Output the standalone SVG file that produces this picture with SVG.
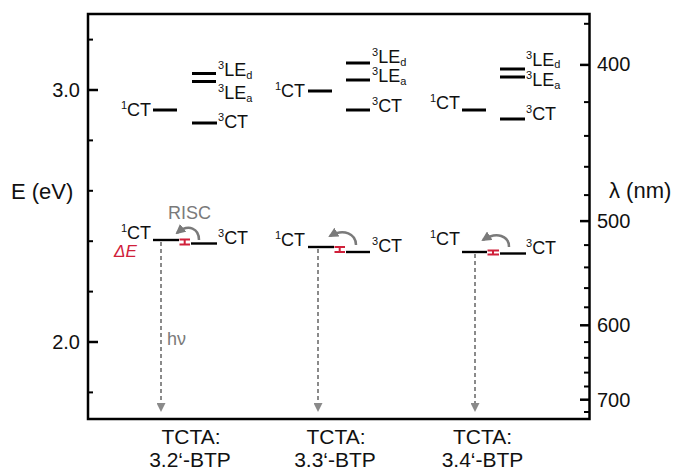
<svg xmlns="http://www.w3.org/2000/svg" width="678" height="472" viewBox="0 0 678 472">
<defs>
<style>
text{font-family:"Liberation Sans",Arial,sans-serif;fill:#111}
.ax{font-size:20px}
.axl{font-size:22px}
.lb{font-size:18px}
.sm{font-size:11px}
.bt{font-size:21px;text-anchor:middle}
.gray{fill:#7a7a7a}
.red{fill:#d0203a}
.lvl{stroke:#000;stroke-width:3;fill:none}
.lvl2{stroke:#000;stroke-width:2.4;fill:none}
.tk{stroke:#000;stroke-width:2.5}
.tkm{stroke:#000;stroke-width:2}
.hv{stroke:#8a8a8a;stroke-width:2;stroke-dasharray:4 3;fill:none}
.risc{stroke:#7a7a7a;stroke-width:2.5;fill:none}
.de{stroke:#d0203a;stroke-width:2;fill:none}
</style>
<marker id="hvhead" markerWidth="9" markerHeight="9" refX="0" refY="4.5" orient="auto" markerUnits="userSpaceOnUse" viewBox="0 0 9 9">
<path d="M0,0 L9,4.5 L0,9 Z" fill="#8a8a8a"/>
</marker>
<marker id="rhead" markerWidth="10" markerHeight="10" refX="8" refY="5" orient="auto" markerUnits="userSpaceOnUse" viewBox="0 0 10 10">
<path d="M0,0 L10,5 L0,10 Z" fill="#7a7a7a"/>
</marker>
</defs>
<rect width="678" height="472" fill="#fff"/>

<g id="axes">
<rect x="88" y="14" width="501.5" height="405" fill="none" stroke="#000" stroke-width="2.5"/>
<g id="left-ticks">
<line class="tk" x1="88" y1="90" x2="98" y2="90"/>
<line class="tk" x1="88" y1="342" x2="98" y2="342"/>
<line class="tkm" x1="88" y1="39.6" x2="93" y2="39.6"/>
<line class="tkm" x1="88" y1="140.4" x2="93" y2="140.4"/>
<line class="tkm" x1="88" y1="190.8" x2="93" y2="190.8"/>
<line class="tkm" x1="88" y1="241.2" x2="93" y2="241.2"/>
<line class="tkm" x1="88" y1="291.6" x2="93" y2="291.6"/>
<line class="tkm" x1="88" y1="392.4" x2="93" y2="392.4"/>
</g>
<g id="right-ticks">
<line class="tk" x1="580" y1="64.9" x2="589.5" y2="64.9"/>
<line class="tk" x1="580" y1="221.1" x2="589.5" y2="221.1"/>
<line class="tk" x1="580" y1="325.3" x2="589.5" y2="325.3"/>
<line class="tk" x1="580" y1="399.7" x2="589.5" y2="399.7"/>
<line class="tkm" x1="584" y1="23.8" x2="589.5" y2="23.8"/>
<line class="tkm" x1="584" y1="102.1" x2="589.5" y2="102.1"/>
<line class="tkm" x1="584" y1="135.9" x2="589.5" y2="135.9"/>
<line class="tkm" x1="584" y1="166.8" x2="589.5" y2="166.8"/>
<line class="tkm" x1="584" y1="195.1" x2="589.5" y2="195.1"/>
<line class="tkm" x1="584" y1="245.1" x2="589.5" y2="245.1"/>
<line class="tkm" x1="584" y1="267.4" x2="589.5" y2="267.4"/>
<line class="tkm" x1="584" y1="288.1" x2="589.5" y2="288.1"/>
<line class="tkm" x1="584" y1="307.3" x2="589.5" y2="307.3"/>
<line class="tkm" x1="584" y1="342.1" x2="589.5" y2="342.1"/>
<line class="tkm" x1="584" y1="357.8" x2="589.5" y2="357.8"/>
<line class="tkm" x1="584" y1="372.6" x2="589.5" y2="372.6"/>
<line class="tkm" x1="584" y1="386.5" x2="589.5" y2="386.5"/>
<line class="tkm" x1="584" y1="412" x2="589.5" y2="412"/>
</g>
<text class="ax" x="80" y="97" text-anchor="end">3.0</text>
<text class="ax" x="80" y="349" text-anchor="end">2.0</text>
<text class="axl" x="11" y="199">E (eV)</text>
<text class="ax" x="597" y="71">400</text>
<text class="ax" x="597" y="228">500</text>
<text class="ax" x="597" y="332">600</text>
<text class="ax" x="597" y="407">700</text>
<text class="axl" x="609" y="198">λ (nm)</text>
</g>

<g id="connectors">
<line class="hv" x1="161" y1="242" x2="161" y2="403" marker-end="url(#hvhead)"/>
<line class="hv" x1="318" y1="249" x2="318" y2="403" marker-end="url(#hvhead)"/>
<line class="hv" x1="475" y1="254" x2="475" y2="403" marker-end="url(#hvhead)"/>
<path class="risc" d="M199,240 C199,229 189,223 177,233" marker-end="url(#rhead)"/>
<path class="risc" d="M356,245 C356,234 344,228 330,236" marker-end="url(#rhead)"/>
<path class="risc" d="M509,247 C509,236 497,231 483,240" marker-end="url(#rhead)"/>
</g>

<g id="tcta-32">
<g id="g1-upper">
<line class="lvl" x1="153" y1="110" x2="177" y2="110"/>
<text class="lb" x="151" y="116" text-anchor="end"><tspan class="sm" dy="-7">1</tspan><tspan dy="7">CT</tspan></text>
<line class="lvl" x1="192" y1="73.5" x2="216" y2="73.5"/>
<line class="lvl" x1="192" y1="81.5" x2="216" y2="81.5"/>
<text class="lb" x="218" y="76"><tspan class="sm" dy="-7">3</tspan><tspan dy="7">LE</tspan><tspan class="sm" dy="3">d</tspan></text>
<text class="lb" x="218" y="99"><tspan class="sm" dy="-7">3</tspan><tspan dy="7">LE</tspan><tspan class="sm" dy="3">a</tspan></text>
<line class="lvl" x1="192" y1="123" x2="217" y2="123"/>
<text class="lb" x="218" y="128"><tspan class="sm" dy="-7">3</tspan><tspan dy="7">CT</tspan></text>
</g>
<g id="g1-lower">
<line class="lvl2" x1="153" y1="240" x2="179" y2="240"/>
<text class="lb" x="151" y="239" text-anchor="end"><tspan class="sm" dy="-7">1</tspan><tspan dy="7">CT</tspan></text>
<path class="de" d="M179.5,239.5 H190 M179.5,244.5 H190 M184.7,239.5 V244.5"/>
<line class="lvl2" x1="191" y1="243.5" x2="217" y2="243.5"/>
<text class="lb" x="218" y="244"><tspan class="sm" dy="-7">3</tspan><tspan dy="7">CT</tspan></text>
<text class="lb gray" x="168" y="219">RISC</text>
<text class="red" x="114" y="257" font-size="17" font-style="italic">ΔE</text>
<text class="lb gray" x="167" y="345">hν</text>
</g>
<text class="bt" x="191" y="444">TCTA:</text>
<text class="bt" x="190" y="467">3.2‘-BTP</text>
</g>

<g id="tcta-33">
<g id="g2-upper">
<line class="lvl" x1="308" y1="91" x2="332" y2="91"/>
<text class="lb" x="305" y="97" text-anchor="end"><tspan class="sm" dy="-7">1</tspan><tspan dy="7">CT</tspan></text>
<line class="lvl" x1="346" y1="63" x2="370" y2="63"/>
<line class="lvl" x1="346" y1="80" x2="370" y2="80"/>
<text class="lb" x="372" y="63"><tspan class="sm" dy="-7">3</tspan><tspan dy="7">LE</tspan><tspan class="sm" dy="3">d</tspan></text>
<text class="lb" x="372" y="82"><tspan class="sm" dy="-7">3</tspan><tspan dy="7">LE</tspan><tspan class="sm" dy="3">a</tspan></text>
<line class="lvl" x1="346" y1="110" x2="370" y2="110"/>
<text class="lb" x="372" y="112"><tspan class="sm" dy="-7">3</tspan><tspan dy="7">CT</tspan></text>
</g>
<g id="g2-lower">
<line class="lvl2" x1="308" y1="247" x2="334" y2="247"/>
<text class="lb" x="305" y="246" text-anchor="end"><tspan class="sm" dy="-7">1</tspan><tspan dy="7">CT</tspan></text>
<path class="de" d="M334.5,247 H345 M334.5,252 H345 M339.7,247 V252"/>
<line class="lvl2" x1="346" y1="252" x2="370" y2="252"/>
<text class="lb" x="372" y="252"><tspan class="sm" dy="-7">3</tspan><tspan dy="7">CT</tspan></text>
</g>
<text class="bt" x="336" y="444">TCTA:</text>
<text class="bt" x="335" y="467">3.3‘-BTP</text>
</g>

<g id="tcta-34">
<g id="g3-upper">
<line class="lvl" x1="462" y1="110" x2="486" y2="110"/>
<text class="lb" x="460" y="109" text-anchor="end"><tspan class="sm" dy="-7">1</tspan><tspan dy="7">CT</tspan></text>
<line class="lvl" x1="500" y1="69" x2="525" y2="69"/>
<line class="lvl" x1="500" y1="77" x2="525" y2="77"/>
<text class="lb" x="526" y="66"><tspan class="sm" dy="-7">3</tspan><tspan dy="7">LE</tspan><tspan class="sm" dy="2">d</tspan></text>
<text class="lb" x="526" y="86"><tspan class="sm" dy="-7">3</tspan><tspan dy="7">LE</tspan><tspan class="sm" dy="3">a</tspan></text>
<line class="lvl" x1="500" y1="119" x2="525" y2="119"/>
<text class="lb" x="526" y="120"><tspan class="sm" dy="-7">3</tspan><tspan dy="7">CT</tspan></text>
</g>
<g id="g3-lower">
<line class="lvl2" x1="462" y1="252" x2="487" y2="252"/>
<text class="lb" x="460" y="245" text-anchor="end"><tspan class="sm" dy="-7">1</tspan><tspan dy="7">CT</tspan></text>
<path class="de" d="M487.5,250.5 H499 M487.5,254.5 H499 M493,250.5 V254.5"/>
<line class="lvl2" x1="500" y1="253.5" x2="526" y2="253.5"/>
<text class="lb" x="526" y="254"><tspan class="sm" dy="-7">3</tspan><tspan dy="7">CT</tspan></text>
</g>
<text class="bt" x="482.5" y="444">TCTA:</text>
<text class="bt" x="482.5" y="467">3.4‘-BTP</text>
</g>
</svg>
